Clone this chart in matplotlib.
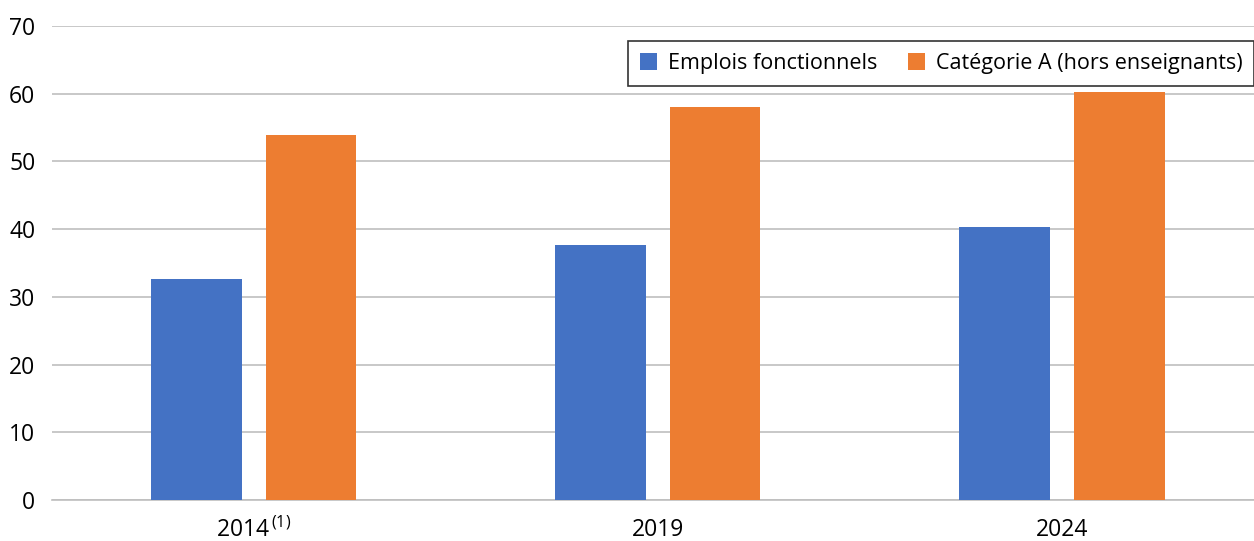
import matplotlib
matplotlib.use("Agg")
import matplotlib.pyplot as plt
import numpy as np

categories = ["2014", "2019", "2024"]
series_names = ["Emplois fonctionnels", "Catégorie A (hors enseignants)"]
emplois = [32.6, 37.6, 40.3]
categorie_a = [53.9, 58.0, 60.3]
yticks = [0, 10, 20, 30, 40, 50, 60, 70]

plt.rcParams['font.family'] = ['Open Sans', 'DejaVu Sans']
plt.rcParams['mathtext.fontset'] = 'custom'
plt.rcParams['mathtext.rm'] = 'Open Sans'

fig = plt.figure(figsize=(12.54, 5.41), dpi=100)
ax = fig.add_axes([52/1254, 1-500/541, 1202/1254, (500-26)/541])

x = np.arange(len(categories))
w = 0.225
off = 0.142
ax.bar(x - off, emplois, w, color="#4472C4", label=series_names[0], zorder=3)
ax.bar(x + off, categorie_a, w, color="#ED7D31", label=series_names[1], zorder=3)

ax.set_ylim(0, 70)
ax.set_xlim(-0.499, 2.476)
ax.set_yticks(yticks)
ax.set_yticklabels([str(t) for t in yticks], fontsize=16.5)
ax.set_xticks(x)
labels = [r"2014$^{\,\mathrm{(1)}}$", "2019", "2024"]
ax.set_xticklabels(labels, fontsize=16.5)
ax.tick_params(axis='x', length=0, pad=13)
ax.tick_params(axis='y', length=0, pad=12)
ax.grid(axis='y', color="#BFBFBF", linewidth=1.2, zorder=0)
for s in ["top", "right", "left"]:
    ax.spines[s].set_visible(False)
ax.spines["bottom"].set_color("#BFBFBF")
ax.spines["bottom"].set_linewidth(1.2)

leg = fig.legend(loc="upper right", bbox_to_anchor=(1.0, 1 - 41/541), ncol=2,
                 fontsize=15.5, frameon=True, fancybox=False, edgecolor="black",
                 handlelength=0.8, handleheight=0.8, handletextpad=0.5,
                 columnspacing=1.4, borderpad=0.55, borderaxespad=0)
leg.get_frame().set_linewidth(1.2)

fig.savefig("out.png", dpi=100)
